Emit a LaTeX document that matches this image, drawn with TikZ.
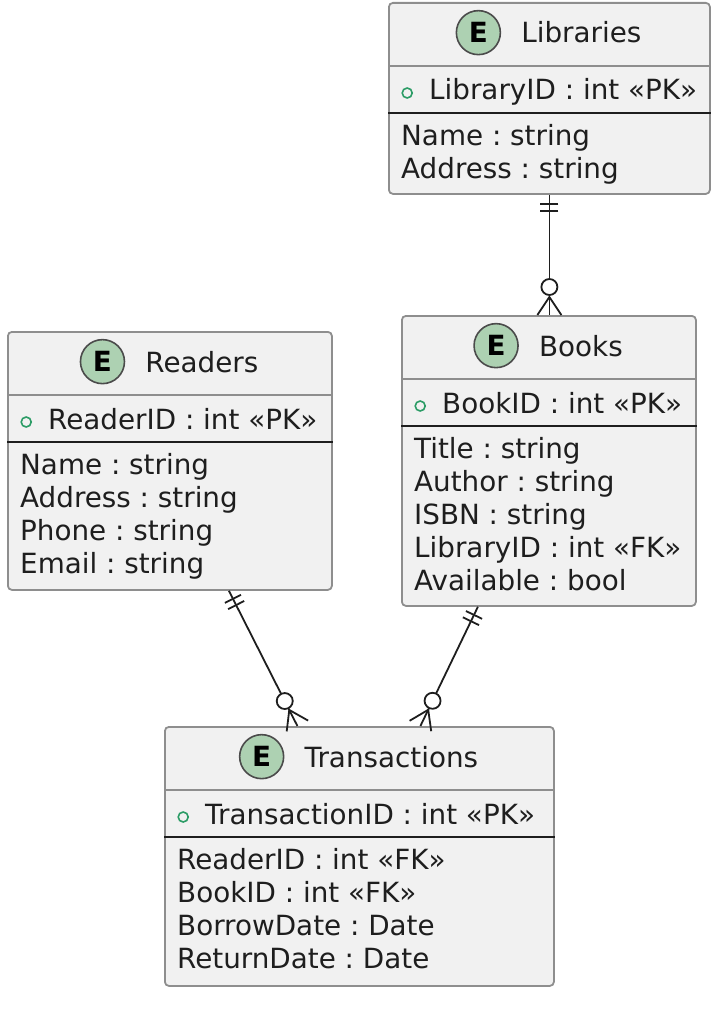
\documentclass[tikz,border=0pt]{standalone}
\usepackage{fontspec}
\setmainfont{DejaVu Sans}
\usepackage{tikz}
\usetikzlibrary{positioning, calc}
\definecolor{boxfill}{HTML}{F1F1F1}
\definecolor{boxline}{HTML}{8E8E8E}
\definecolor{spotfill}{HTML}{ADD1B2}
\definecolor{pkgreen}{HTML}{2C9C66}
\definecolor{inkline}{HTML}{1E1E1E}
\newcommand{\erfont}{\fontsize{27.8}{33}\selectfont\frenchspacing}
\tikzstyle{entity} = [draw=boxline, fill=boxfill, line width=1.8pt, rounded corners=4pt, anchor=north west, inner sep=0pt]
\tikzstyle{enttitle} = [anchor=base, inner sep=0pt, font=\erfont, text=inkline]
\tikzstyle{spot} = [circle, draw=inkline!80, line width=1.6pt, fill=spotfill, minimum size=44pt, inner sep=0pt, font=\erfont\bfseries]
\tikzstyle{pk} = [anchor=base west, inner sep=0pt, font=\erfont, text=inkline, text height=20pt, text depth=6pt]
\tikzstyle{pkdot} = [circle, draw=pkgreen, line width=1.6pt, minimum size=10pt, inner sep=0pt]
\tikzstyle{attrs} = [anchor=north west, inner sep=0pt, align=left, font=\erfont, text=inkline]
\tikzstyle{sepline} = [draw=boxline, line width=1.8pt]
\tikzstyle{pksep} = [draw=inkline, line width=1.8pt]
\tikzstyle{rel} = [draw=inkline, line width=1.8pt]

\begin{document}
\begin{tikzpicture}[x=1pt, y=-1pt]
    \useasboundingbox (0,0) rectangle (712,1014);

    % entity boxes
    \node[entity, minimum width=321pt, minimum height=191pt] (lib) at (388,2) {};
    \node[entity, minimum width=324pt, minimum height=258pt] (readers) at (7,331) {};
    \node[entity, minimum width=294pt, minimum height=290pt] (books) at (401,315) {};
    \node[entity, minimum width=389pt, minimum height=259pt] (trans) at (164,726) {};

    \foreach \e in {lib, readers, books, trans} {
        \draw[sepline] ([yshift=-64pt]\e.north west) -- ([yshift=-64pt]\e.north east);
        \draw[pksep] ([yshift=-111pt]\e.north west) -- ([yshift=-111pt]\e.north east);
    }

    % Libraries
    \node[enttitle] (libT) at ([xshift=32pt, yshift=-41pt]lib.north) {Libraries};
    \node[spot, left=20pt of libT] (libE) {E};
    \node[pk] (libPK) at ([xshift=41pt, yshift=-98pt]lib.north west) {LibraryID : int «PK»};
    \node[pkdot, left=16pt of libPK] (libO) {};
    \node[attrs] (libA) at ([xshift=13pt, yshift=-122pt]lib.north west) {Name : string\\Address : string};

    % Readers
    \node[enttitle] (rdT) at ([xshift=32pt, yshift=-41pt]readers.north) {Readers};
    \node[spot, left=20pt of rdT] (rdE) {E};
    \node[pk] (rdPK) at ([xshift=41pt, yshift=-98pt]readers.north west) {ReaderID : int «PK»};
    \node[pkdot, left=16pt of rdPK] (rdO) {};
    \node[attrs] (rdA) at ([xshift=13pt, yshift=-122pt]readers.north west) {Name : string\\Address : string\\Phone : string\\Email : string};

    % Books
    \node[enttitle] (bkT) at ([xshift=32pt, yshift=-41pt]books.north) {Books};
    \node[spot, left=20pt of bkT] (bkE) {E};
    \node[pk] (bkPK) at ([xshift=41pt, yshift=-98pt]books.north west) {BookID : int «PK»};
    \node[pkdot, left=16pt of bkPK] (bkO) {};
    \node[attrs] (bkA) at ([xshift=13pt, yshift=-122pt]books.north west) {Title : string\\Author : string\\ISBN : string\\LibraryID : int «FK»\\Available : bool};

    % Transactions
    \node[enttitle] (trT) at ([xshift=32pt, yshift=-41pt]trans.north) {Transactions};
    \node[spot, left=20pt of trT] (trE) {E};
    \node[pk] (trPK) at ([xshift=41pt, yshift=-98pt]trans.north west) {TransactionID : int «PK»};
    \node[pkdot, left=16pt of trPK] (trO) {};
    \node[attrs] (trA) at ([xshift=13pt, yshift=-122pt]trans.north west) {ReaderID : int «FK»\\BookID : int «FK»\\BorrowDate : Date\\ReturnDate : Date};

    % one to zero-or-many links
    \coordinate (libOut) at (lib.south);
    \coordinate (bkIn) at (lib.south |- books.north);
    \coordinate (rdOut) at ([xshift=59pt]readers.south);
    \coordinate (trIn1) at ([xshift=-62pt]trans.north);
    \coordinate (bkOut) at ([xshift=-71pt]books.south);
    \coordinate (trIn2) at ([xshift=61pt]trans.north);
    \foreach \a/\b in {libOut/bkIn, rdOut/trIn1, bkOut/trIn2} {
        \draw[rel] (\a) -- (\b);
        \coordinate (bar1) at ($(\a)!9pt!(\b)$);
        \coordinate (bar2) at ($(\a)!16pt!(\b)$);
        \draw[rel] ($(bar1)!9pt!90:(\b)$) -- ($(bar1)!9pt!-90:(\b)$);
        \draw[rel] ($(bar2)!9pt!90:(\b)$) -- ($(bar2)!9pt!-90:(\b)$);
        \coordinate (foot) at ($(\b)!18pt!(\a)$);
        \draw[rel] ($(\b)!12pt!90:(\a)$) -- (foot) -- ($(\b)!12pt!-90:(\a)$);
        \draw[rel, fill=white] ($(\b)!28pt!(\a)$) circle (8pt);
    }
\end{tikzpicture}
\end{document}
